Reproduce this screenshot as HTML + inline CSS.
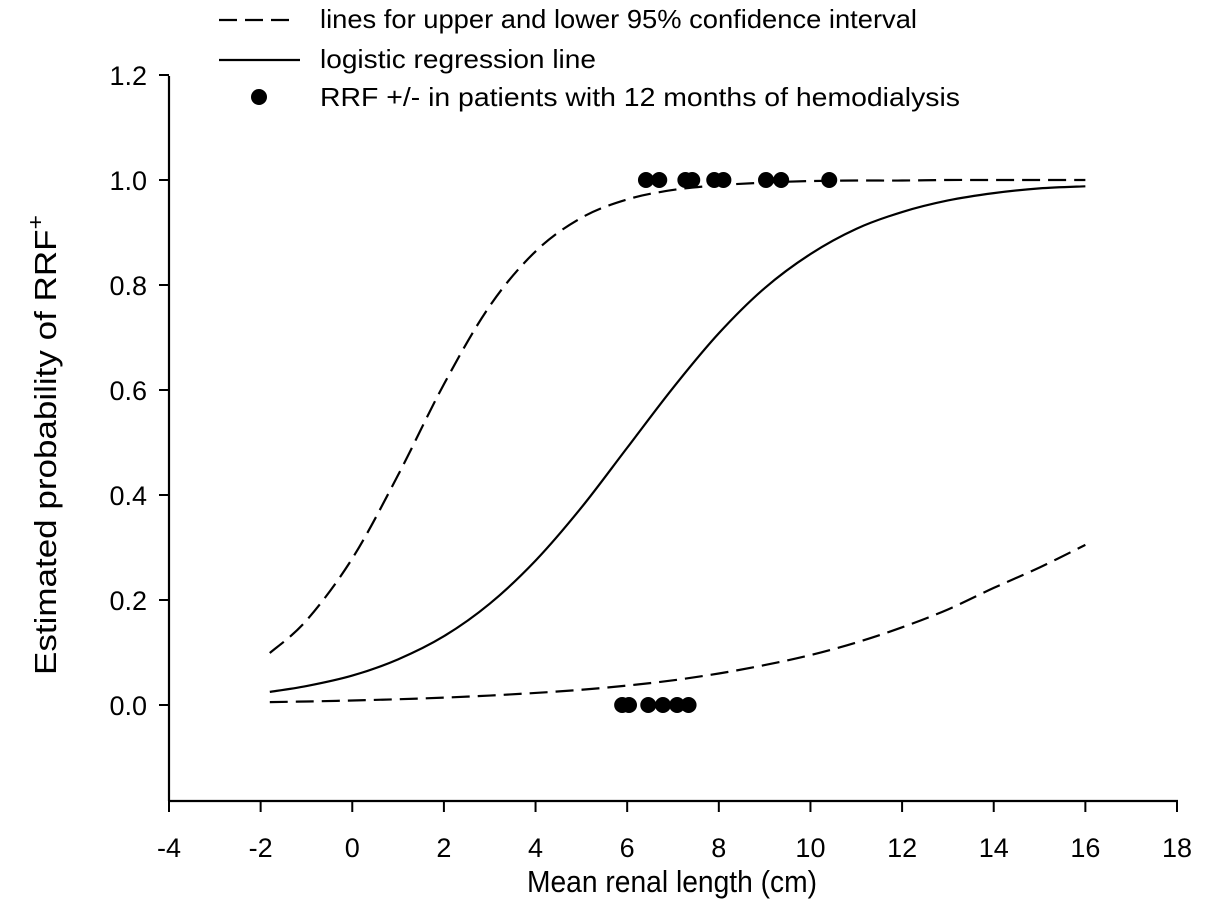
<!DOCTYPE html>
<html><head><meta charset="utf-8"><style>
html,body{margin:0;padding:0;background:#fff;}
svg{display:block;font-family:"Liberation Sans",sans-serif;}
</style></head><body>
<svg id="chart" width="1205" height="909" viewBox="0 0 1205 909">
<g id="legend">
 <line x1="219" y1="20" x2="294" y2="20" stroke="#000" stroke-width="2.2" stroke-dasharray="18,8"/>
 <text x="320" y="28" font-size="26" textLength="597" lengthAdjust="spacingAndGlyphs">lines for upper and lower 95% confidence interval</text>
 <line x1="219" y1="60" x2="300" y2="60" stroke="#000" stroke-width="2.2"/>
 <text x="320" y="68" font-size="26" textLength="276" lengthAdjust="spacingAndGlyphs">logistic regression line</text>
 <circle cx="259" cy="97" r="8" fill="#000"/>
 <text x="320" y="106" font-size="26" textLength="640" lengthAdjust="spacingAndGlyphs">RRF +/- in patients with 12 months of hemodialysis</text>
</g>
<text x="0" y="0" font-size="31" text-anchor="middle" textLength="460" lengthAdjust="spacingAndGlyphs" transform="translate(56,445) rotate(-90)">Estimated probability of RRF<tspan dy="-13" font-size="22">+</tspan></text>
<text x="672" y="892" font-size="31" text-anchor="middle" textLength="290" lengthAdjust="spacingAndGlyphs">Mean renal length (cm)</text>
<g id="axes"></g>
<g id="plot"></g>
</svg>
<script>
const xTicks=[-4,-2,0,2,4,6,8,10,12,14,16,18];
const yTicks=[0.0,0.2,0.4,0.6,0.8,1.0,1.2];
const yTickLabels=["0.0","0.2","0.4","0.6","0.8","1.0","1.2"];
const curveX=[-1.8,-1,0,1,2,3,4,5,6,7,8,9,10,11,12,13,14,15,16];
const regression=[.025,.036,.056,.087,.131,.193,.275,.376,.490,.604,.708,.794,.859,.907,.939,.961,.975,.984,.988];
const upperCI=[.099,.161,.279,.438,.611,.760,.864,.928,.963,.981,.990,.995,.998,.999,.999,1.0,1.0,1.0,1.0];
const lowerCI=[.0055,.0067,.0086,.011,.014,.018,.023,.029,.037,.047,.060,.076,.095,.119,.148,.182,.223,.262,.305];
const pointsX=[6.41,6.70,7.27,7.42,7.90,8.10,9.03,9.36,10.41,5.89,6.04,6.46,6.78,7.09,7.34];
const pointsY=[1,1,1,1,1,1,1,1,1,0,0,0,0,0,0];

const NS="http://www.w3.org/2000/svg";
const X0=169,X1=1177,XMIN=-4,XMAX=18;
const Y0=705,PERUNIT=525;
const sx=v=>X0+(v-XMIN)/(XMAX-XMIN)*(X1-X0);
const sy=v=>Y0-v*PERUNIT;
function mk(tag,attrs,parent){const e=document.createElementNS(NS,tag);for(const k in attrs)e.setAttribute(k,attrs[k]);parent.appendChild(e);return e;}
const axes=document.getElementById('axes'),plot=document.getElementById('plot');
let e;
e=mk('line',{x1:X0,y1:76,x2:X0,y2:801,stroke:'#000','stroke-width':2.2},axes);


e=mk('line',{x1:X0-1,y1:801,x2:X1+1,y2:801,stroke:'#000','stroke-width':2.2},axes);


xTicks.forEach(t=>{
 const x=sx(t);
 e=mk('line',{x1:x,y1:801,x2:x,y2:812,stroke:'#000','stroke-width':2},axes);
 
 
 e=mk('text',{x:x,y:857,'font-size':27,'text-anchor':'middle'},axes);
 e.textContent=String(t);
 
 
});
yTicks.forEach((t,i)=>{
 const y=sy(t);
 e=mk('line',{x1:X0-10,y1:y,x2:X0,y2:y,stroke:'#000','stroke-width':2},axes);
 
 
 e=mk('text',{x:X0-22,y:y+10,'font-size':27,'text-anchor':'end'},axes);
 e.textContent=yTickLabels[i];
 
 
});
function smooth(xs,ys){
 const p=xs.map((x,i)=>[sx(x),sy(ys[i])]);
 let d='M'+p[0][0]+','+p[0][1];
 for(let i=0;i<p.length-1;i++){
  const a=p[i-1]||p[i],b=p[i],c=p[i+1],n=p[i+2]||c;
  d+=' C'+(b[0]+(c[0]-a[0])/6)+','+(b[1]+(c[1]-a[1])/6)+' '+(c[0]-(n[0]-b[0])/6)+','+(c[1]-(n[1]-b[1])/6)+' '+c[0]+','+c[1];
 }
 return d;
}
e=mk('path',{d:smooth(curveX,upperCI),fill:'none',stroke:'#000','stroke-width':2.2,'stroke-dasharray':'18,8'},plot);


e=mk('path',{d:smooth(curveX,lowerCI),fill:'none',stroke:'#000','stroke-width':2.2,'stroke-dasharray':'18,8'},plot);


e=mk('path',{d:smooth(curveX,regression),fill:'none',stroke:'#000','stroke-width':2.2},plot);


pointsX.forEach((x,i)=>{
 e=mk('circle',{cx:sx(x),cy:sy(pointsY[i]),r:8,fill:'#000'},plot);
 
 
});
</script>
</body></html>
